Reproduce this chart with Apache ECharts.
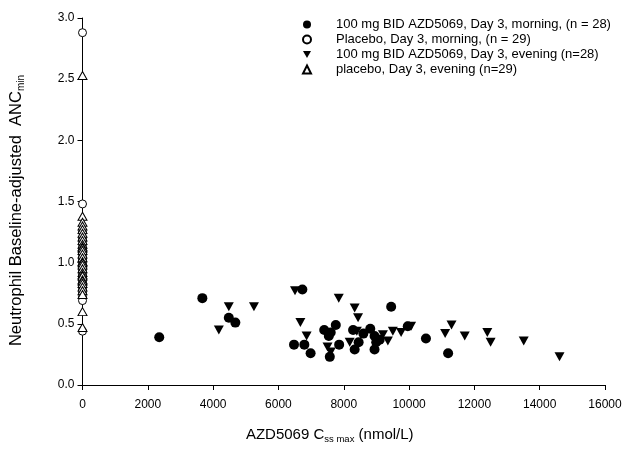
<!DOCTYPE html>
<html>
<head>
<meta charset="utf-8">
<script src="https://cdn.jsdelivr.net/npm/echarts@6/dist/echarts.min.js"></script>
<style>
  html, body { margin: 0; padding: 0; background: #fff; }
  #chart { width: 643px; height: 449px; }
</style>
</head>
<body>
<div id="chart"></div>
<script>
// [Css,max (nmol/L), ANCmin]
const drugMorning = [
  [2350, 0.39], [3670, 0.71], [4480, 0.55], [4680, 0.51], [6733, 0.78],
  [6477, 0.33], [6793, 0.33], [6985, 0.26], [7402, 0.45], [7542, 0.40],
  [7573, 0.23], [7600, 0.43], [7756, 0.49], [7859, 0.33], [8286, 0.45],
  [8334, 0.29], [8456, 0.35], [8600, 0.42], [8812, 0.46], [8943, 0.40],
  [8995, 0.35], [8943, 0.29], [9100, 0.37], [9452, 0.64], [9960, 0.48],
  [10517, 0.38], [11196, 0.26]
];
const placeboMorning = [2.88, 1.48, 1.25, 1.2, 1.18, 1.15, 1.12, 1.1, 1.08, 1.05,
  1.03, 1.02, 1.0, 0.98, 0.97, 0.95, 0.93, 0.92, 0.9, 0.88, 0.87, 0.85, 0.82,
  0.8, 0.78, 0.76, 0.72, 0.69, 0.44];
const drugEvening = [
  [4175, 0.45], [4480, 0.64], [5250, 0.64], [6507, 0.77], [6672, 0.51],
  [6863, 0.40], [7503, 0.31], [7603, 0.27], [7847, 0.71], [8182, 0.35],
  [8334, 0.63], [8438, 0.55], [8400, 0.44], [9199, 0.41], [9351, 0.36],
  [9503, 0.44], [9756, 0.43], [10061, 0.48], [11105, 0.42], [11300, 0.49],
  [11705, 0.40], [12396, 0.43], [12497, 0.35], [13511, 0.36], [14607, 0.23]
];
const placeboEvening = [2.53, 1.38, 1.33, 1.3, 1.27, 1.24, 1.21, 1.18, 1.15,
  1.13, 1.12, 1.1, 1.07, 1.04, 1.01, 1.0, 0.98, 0.95, 0.92, 0.9, 0.89, 0.86,
  0.85, 0.83, 0.8, 0.77, 0.74, 0.6, 0.47];
const seriesNames = [
  '100 mg BID AZD5069, Day 3, morning, (n = 28)',
  'Placebo, Day 3, morning, (n = 29)',
  '100 mg BID AZD5069, Day 3, evening (n=28)',
  'placebo, Day 3, evening (n=29)'
];

const chart = echarts.init(document.getElementById('chart'));
const font = 'Liberation Sans, Arial, sans-serif';
const downTri = 'path://M0,0 L10,0 L5,9 Z';

chart.setOption({
  animation: false,
  textStyle: { fontFamily: font, color: '#000' },
  grid: { left: 80, right: 38, top: 18, bottom: 56 },
  legend: {
    orient: 'vertical',
    left: 297,
    top: 13,
    itemWidth: 8,
    itemHeight: 8,
    itemGap: 2,
    textStyle: { fontFamily: font, fontSize: 13, color: '#000', padding: [0, 0, 0, 20] },
    data: [
      { name: seriesNames[0], icon: 'circle' },
      { name: seriesNames[1], icon: 'circle' },
      { name: seriesNames[2], icon: downTri },
      { name: seriesNames[3], icon: 'triangle' }
    ]
  },
  xAxis: {
    type: 'value',
    min: 0,
    max: 16000,
    interval: 2000,
    name: 'AZD5069 C{sub|ss max} (nmol/L)',
    nameLocation: 'middle',
    nameGap: 40,
    nameTextStyle: {
      fontFamily: font, fontSize: 15, color: '#000', padding: [0, 28, 0, 0],
      rich: { sub: { fontFamily: font, fontSize: 9.5, color: '#000', verticalAlign: 'bottom', padding: [9, 0, 0, 0] } }
    },
    splitLine: { show: false },
    axisLine: { lineStyle: { color: '#000', width: 1 } },
    axisTick: { lineStyle: { color: '#000' }, length: 5 },
    axisLabel: { fontFamily: font, fontSize: 12, color: '#000', margin: 14, formatter: v => String(v) }
  },
  yAxis: {
    type: 'value',
    min: 0,
    max: 3,
    interval: 0.5,
    name: 'Neutrophil Baseline-adjusted  ANC{sub|min}',
    nameLocation: 'middle',
    nameGap: 56,
    nameTextStyle: {
      fontFamily: font, fontSize: 16.5, color: '#000', padding: [0, 18, 0, 0],
      rich: { sub: { fontFamily: font, fontSize: 10, color: '#000', verticalAlign: 'bottom', padding: [10, 0, 0, 0] } }
    },
    splitLine: { show: false },
    axisLine: { lineStyle: { color: '#000', width: 1 } },
    axisTick: { lineStyle: { color: '#000' }, length: 5 },
    axisLabel: { fontFamily: font, fontSize: 12, color: '#000', margin: 8, formatter: v => v.toFixed(1) }
  },
  series: [
    {
      name: seriesNames[0],
      type: 'scatter',
      symbol: 'circle',
      symbolSize: 10,
      itemStyle: { color: '#000', opacity: 1 },
      data: drugMorning
    },
    {
      name: seriesNames[1],
      type: 'scatter',
      symbol: 'circle',
      symbolSize: 8,
      itemStyle: { color: '#fff', borderColor: '#000', borderWidth: 1, opacity: 1 },
      data: placeboMorning.map(v => [0, v])
    },
    {
      name: seriesNames[2],
      type: 'scatter',
      symbol: downTri,
      symbolSize: [10, 9],
      itemStyle: { color: '#000', opacity: 1 },
      data: drugEvening
    },
    {
      name: seriesNames[3],
      type: 'scatter',
      symbol: 'triangle',
      symbolSize: [9, 8],
      itemStyle: { color: '#fff', borderColor: '#000', borderWidth: 1, opacity: 1 },
      data: placeboEvening.map(v => [0, v])
    }
  ]
});
</script>
</body>
</html>
